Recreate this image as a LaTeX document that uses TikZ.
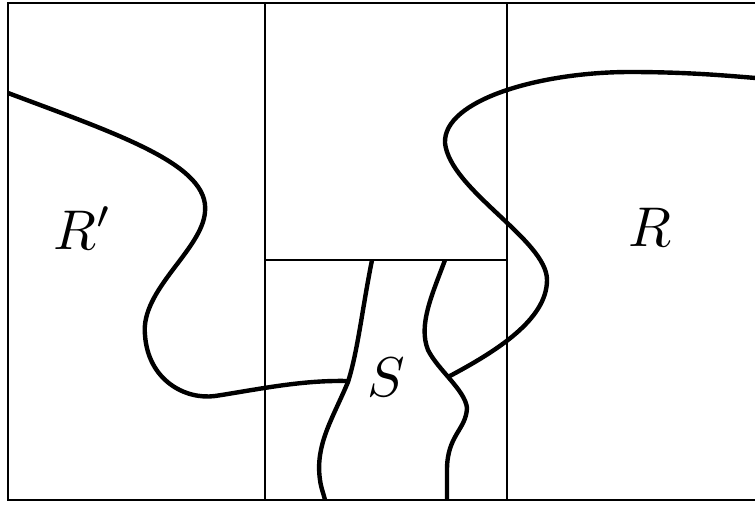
\documentclass[tikz,border=0pt]{standalone}
\begin{document}
\begin{tikzpicture}[x=1pt,y=-1pt,
  frame/.style={line width=1.8pt},
  curve/.style={line width=4.4pt, line join=round, line cap=butt},
  lab/.style={scale=5.6, inner sep=0pt}]
\useasboundingbox (0,0) rectangle (755,504);
% frame
\draw[frame] (760,3) -- (8,3) -- (8,500) -- (760,500);
\draw[frame] (265,3) -- (265,500);
\draw[frame] (507,3) -- (507,500);
\draw[frame] (265,260) -- (507,260);
% left curve
\draw[curve] (8,93) .. controls (120,135) and (210,165) .. (205,212)
  .. controls (202,250) and (140,290) .. (145,335)
  .. controls (148,380) and (185,400) .. (215,396)
  .. controls (255,390) and (300,380) .. (347,381);
% S left
\draw[curve] (372,260) .. controls (362,310) and (358,350) .. (348,382)
  .. controls (332,420) and (315,445) .. (320,480)
  .. controls (321,488) and (324,495) .. (325,500);
% S right
\draw[curve] (445,260) .. controls (432,295) and (418,325) .. (428,350)
  .. controls (438,370) and (465,390) .. (467,408)
  .. controls (466,430) and (447,435) .. (447,470) -- (447,500);
% right curve
\draw[curve] (448,377) .. controls (495,352) and (547,320) .. (547,280)
  .. controls (547,240) and (450,190) .. (445,143)
  .. controls (443,100) and (540,72) .. (630,72)
  .. controls (690,72) and (730,76) .. (756,78);
% labels
\node[lab] (rp) at (83,228) {$R'$};
\node[lab] (r) at (650,227) {$R$};
\node[lab] (s) at (386,377) {$S$};
\end{tikzpicture}
\end{document}
